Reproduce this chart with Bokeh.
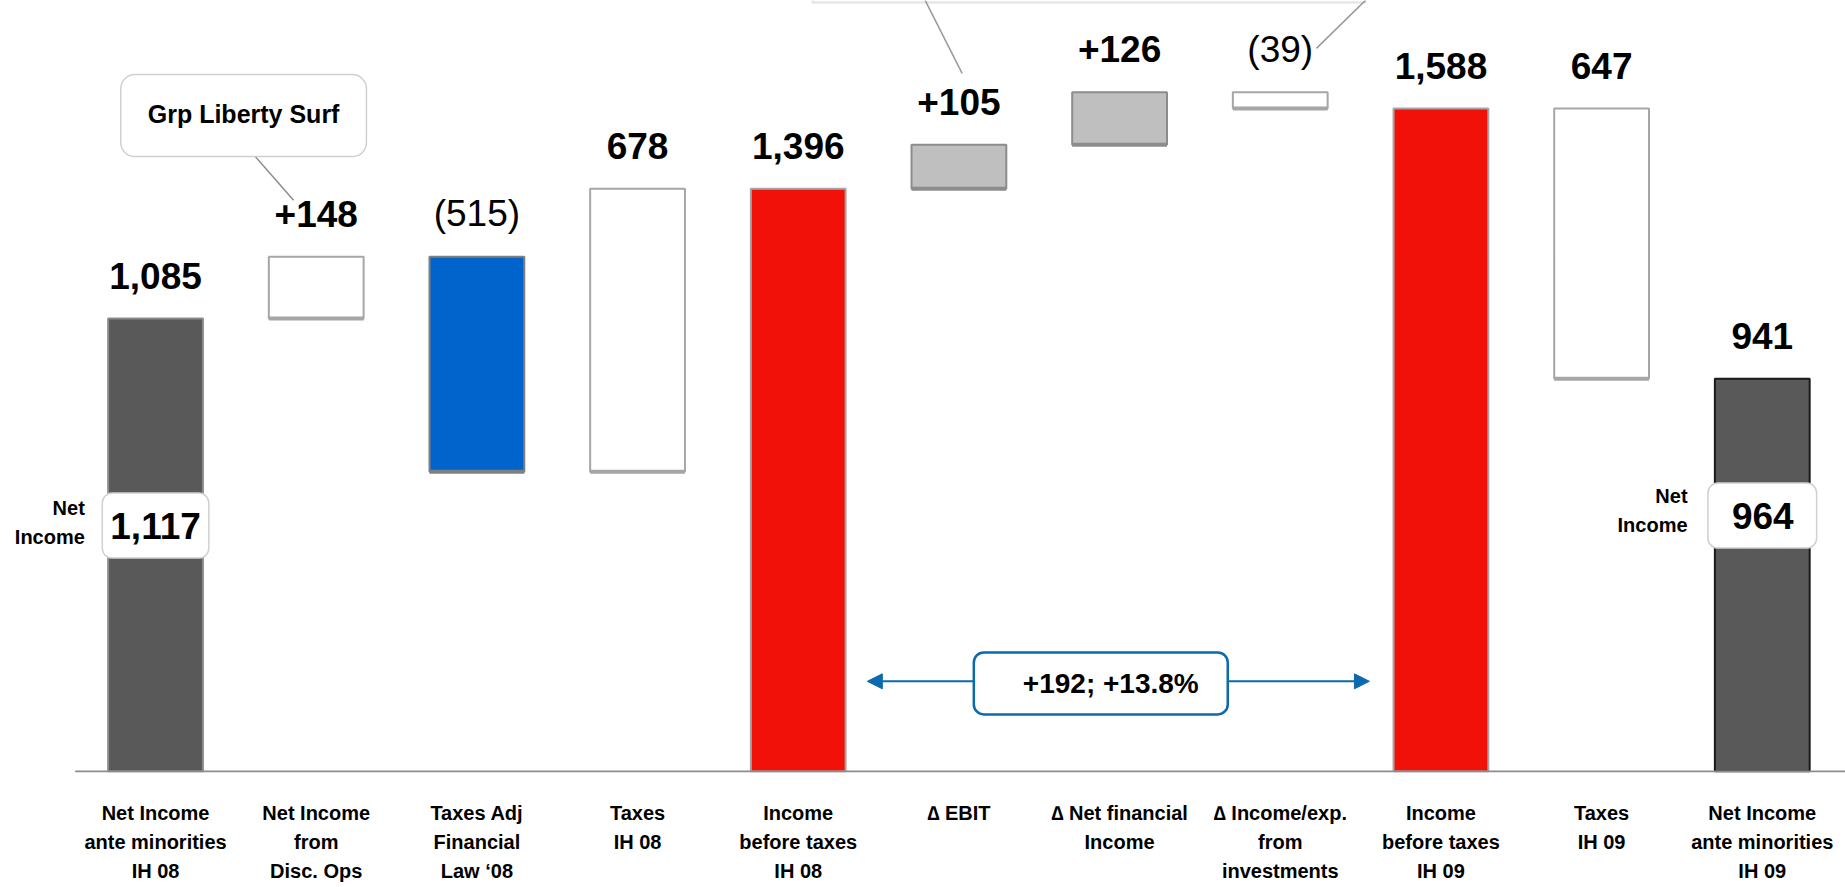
from bokeh.plotting import figure
from bokeh.models import Range1d, ColumnDataSource, Label, Arrow, NormalHead, FixedTicker
from bokeh.core.properties import value
from bokeh.embed import file_html
from bokeh.resources import INLINE

# ---------------- data ----------------
categories = [
    "Net Income\nante minorities\nIH 08",
    "Net Income\nfrom\nDisc. Ops",
    "Taxes Adj\nFinancial\nLaw \u201808",
    "Taxes\nIH 08",
    "Income\nbefore taxes\nIH 08",
    "\u2206 EBIT",
    "\u2206 Net financial\nIncome",
    "\u2206 Income/exp.\nfrom\ninvestments",
    "Income\nbefore taxes\nIH 09",
    "Taxes\nIH 09",
    "Net Income\nante minorities\nIH 09",
]
kinds = ["total", "delta", "delta", "tax", "total", "delta", "delta", "delta", "total", "tax", "total"]
values = [1085, 148, -515, 678, 1396, 105, 126, -39, 1588, -647, 941]
net_income = [1117, 964]
growth_text = "+192; +13.8%"
callout_text = "Grp Liberty Surf"

# ---------------- styles (kept apart from data) ----------------
fill_colors = ["#595959", "#ffffff", "#0064cc", "#ffffff", "#f21109", "#bfbfbf",
               "#bfbfbf", "#ffffff", "#f21109", "#ffffff", "#595959"]
line_colors = ["#8c8c8c", "#a6a6a6", "#7f7f7f", "#a6a6a6", "#a6a6a6", "#8c8c8c",
               "#8c8c8c", "#a6a6a6", "#a6a6a6", "#a6a6a6", "#1a1a1a"]
FONT = "Liberation Sans"

# ---------------- waterfall computation ----------------
xs = list(range(len(categories)))
bottoms, tops, labels, styles = [], [], [], []
running = 0
for k, v in zip(kinds, values):
    if k == "total":
        b, t = 0, v
        running = v
        labels.append(f"{v:,}")
    else:
        b, t = running, running + v
        running += v
        if k == "tax":
            labels.append(f"{abs(v):,}")
        else:
            labels.append(f"+{v:,}" if v > 0 else f"({abs(v):,})")
    bottoms.append(min(b, t))
    tops.append(max(b, t))
    styles.append("normal" if (k == "delta" and v < 0) else "bold")

src = ColumnDataSource(dict(x=xs, bottom=bottoms, top=tops, label=labels,
                            fill=fill_colors, line=line_colors, fstyle=styles))

p = figure(frame_width=1845, frame_height=772, min_border=0,
           x_range=Range1d(-0.965, 10.518), y_range=Range1d(-2.4, 1846.7),
           output_backend="svg", toolbar_location=None, y_axis_location=None,
           x_axis_location="below")
p.outline_line_color = None
p.grid.visible = False
p.background_fill_color = "white"
p.border_fill_color = "white"

BW = 0.59
p.vbar(x="x", width=BW, bottom="bottom", top="top", fill_color="fill",
       line_color="line", line_width=2, source=src)

# thicker lower edge on floating bars
fx = [x for x, b in zip(xs, bottoms) if b > 0]
fb = [b for b in bottoms if b > 0]
fl = [c for c, b in zip(line_colors, bottoms) if b > 0]
p.segment(x0=[x - BW / 2 for x in fx], x1=[x + BW / 2 for x in fx], y0=fb, y1=fb,
          line_color=fl, line_width=4)

# baseline
p.segment(x0=[-0.5], x1=[10.6], y0=[0], y1=[0], line_color="#8c8c8c", line_width=2)

# value labels
p.text(x="x", y="top", text="label", source=src, y_offset=-43,
       text_align="center", text_baseline="alphabetic",
       text_font=value(FONT), text_font_size="37px",
       text_font_style="fstyle", text_color="#000000")

# x axis with category labels
ax = p.xaxis[0]
ax.ticker = FixedTicker(ticks=xs)
ax.major_label_overrides = {i: c for i, c in enumerate(categories)}
ax.axis_line_color = None
ax.major_tick_line_color = None
ax.minor_tick_line_color = None
ax.major_tick_out = 0
ax.major_tick_in = 0
ax.major_label_standoff = 29
ax.major_label_text_font = FONT
ax.major_label_text_font_size = "20px"
ax.major_label_text_font_style = "bold"
ax.major_label_text_color = "#000000"
ax.major_label_text_line_height = 1.33


def rounded_box(x, y, text, size, pad, border_color, border_width=1.5, radius=8, shadow=True):
    # pad = (left, right, top, bottom)
    if shadow:
        p.add_layout(Label(x=x, y=y, x_offset=2, y_offset=-3, text=text,
                           text_align="center", text_baseline="middle",
                           text_font=FONT, text_font_size=size,
                           text_font_style="bold", text_alpha=0.0,
                           background_fill_color="#000000", background_fill_alpha=0.07,
                           border_radius=radius, padding=pad))
    p.add_layout(Label(x=x, y=y, text=text, text_align="center", text_baseline="middle",
                       text_font=FONT, text_font_size=size,
                       text_font_style="bold", text_color="#000000",
                       background_fill_color="#ffffff", border_line_color=border_color,
                       border_line_width=border_width, border_radius=radius, padding=pad))


# Net income boxes
rounded_box(0, 589, f"{net_income[0]:,}", "37px", (8, 8, 20, 19), "#d0d0d0", radius=10)
rounded_box(10, 613, f"{net_income[1]:,}", "37px", (24, 23, 20, 19), "#d0d0d0", radius=10)

for x, y in [(-0.44, 596), (9.535, 625)]:
    p.add_layout(Label(x=x, y=y, text="Net\nIncome", text_align="right",
                       text_baseline="middle", text_font=FONT,
                       text_font_size="20px", text_font_style="bold",
                       text_line_height=1.3, text_color="#000000"))

# Grp Liberty Surf callout
p.segment(x0=[0.604], y0=[1480], x1=[0.859], y1=[1368], line_color="#8c8c8c", line_width=1.5)
rounded_box(0.548, 1571, callout_text, "25px", (27, 27, 25, 29), "#d0d0d0", radius=14)

# top callout (box cut off by the top edge) and its pointers
p.quad(left=[4.09], right=[7.53], bottom=[1842], top=[1900], fill_color="#ffffff",
       line_color="#e2e2e2", line_width=2)
p.segment(x0=[4.79, 7.53], y0=[1847, 1847], x1=[5.02, 7.225], y1=[1672, 1732],
          line_color="#999999", line_width=1.5)

# growth arrow between the two income-before-taxes bars
blue = "#0a6aad"
p.add_layout(Arrow(x_start=4.43, y_start=216, x_end=7.555, y_end=216,
                   line_color=blue, line_width=2,
                   start=NormalHead(size=15, fill_color=blue, line_color=blue),
                   end=NormalHead(size=15, fill_color=blue, line_color=blue)))
p.add_layout(Label(x=5.883, y=211, text=growth_text, text_align="center",
                   text_baseline="middle", text_font=FONT,
                   text_font_size="28px", text_font_style="bold", text_color="#000000",
                   background_fill_color="#ffffff", border_line_color=blue,
                   border_line_width=2.5, border_radius=10, padding=(49, 29, 16, 15)))

open("out.html", "w").write(file_html(p, INLINE))
